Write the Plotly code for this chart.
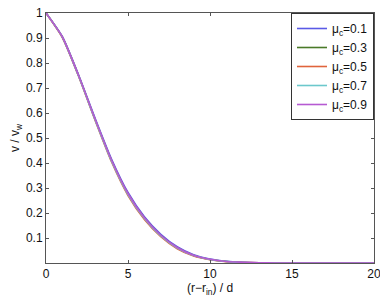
import plotly.graph_objects as go

x = [0, 1, 2, 3, 4, 5, 6, 7, 8, 9, 10, 11, 12, 13, 14, 15, 16, 17, 18, 19, 20]
mu01 = [1.0, 0.905, 0.75, 0.578, 0.415, 0.282, 0.185, 0.115, 0.065, 0.033, 0.016, 0.007, 0.003, 0.001, 0.0, 0.0, 0.0, 0.0, 0.0, 0.0, 0.0]
mu03 = [1.0, 0.903, 0.747, 0.573, 0.409, 0.276, 0.180, 0.110, 0.061, 0.030, 0.014, 0.006, 0.002, 0.001, 0.0, 0.0, 0.0, 0.0, 0.0, 0.0, 0.0]
mu05 = [1.0, 0.902, 0.745, 0.570, 0.404, 0.270, 0.174, 0.105, 0.057, 0.028, 0.013, 0.005, 0.002, 0.001, 0.0, 0.0, 0.0, 0.0, 0.0, 0.0, 0.0]
mu07 = [1.0, 0.903, 0.746, 0.572, 0.407, 0.274, 0.178, 0.108, 0.060, 0.030, 0.014, 0.006, 0.002, 0.001, 0.0, 0.0, 0.0, 0.0, 0.0, 0.0, 0.0]
mu09 = [1.0, 0.904, 0.748, 0.575, 0.411, 0.278, 0.181, 0.111, 0.062, 0.031, 0.015, 0.006, 0.003, 0.001, 0.0, 0.0, 0.0, 0.0, 0.0, 0.0, 0.0]
names = ["μ<sub>c</sub>=0.1", "μ<sub>c</sub>=0.3", "μ<sub>c</sub>=0.5", "μ<sub>c</sub>=0.7", "μ<sub>c</sub>=0.9"]
colors = ["#5a5ae6", "#4a7a28", "#e0643c", "#6cc8cc", "#b65ad2"]
series = [mu01, mu03, mu05, mu07, mu09]

fig = go.Figure()
for ys, n, c in zip(series, names, colors):
    fig.add_trace(go.Scatter(x=x, y=ys, name=n, mode="lines",
                             line=dict(color=c, width=1.6, shape="spline", smoothing=0.6)))

axis_common = dict(showline=True, linecolor="#555555", linewidth=1, mirror="ticks",
                   ticks="inside", ticklen=3, tickcolor="#555555", showgrid=False,
                   zeroline=False, automargin=False, ticklabeloverflow="allow",
                   tickfont=dict(size=12, color="#111111"))
fig.update_xaxes(range=[0, 20], tickvals=[0, 5, 10, 15, 20],
                 title=dict(text="(r−r<sub>in</sub>) / d", font=dict(size=12, color="#111111"), standoff=0),
                 **axis_common)
fig.update_yaxes(range=[0, 1], tickvals=[0.1, 0.2, 0.3, 0.4, 0.5, 0.6, 0.7, 0.8, 0.9, 1],
                 ticktext=["0.1", "0.2", "0.3", "0.4", "0.5", "0.6", "0.7", "0.8", "0.9", "1"],
                 title=dict(text="v / v<sub>w</sub>", font=dict(size=12, color="#111111"), standoff=4),
                 **axis_common)
fig.update_layout(
    width=380, height=291,
    margin=dict(l=38, r=14, t=5, b=36),
    paper_bgcolor="white", plot_bgcolor="white",
    font=dict(family="Liberation Sans, Arial, sans-serif", size=12, color="#111111"),
    legend=dict(x=1, xanchor="right", y=1, yanchor="top", bgcolor="white",
                bordercolor="#333333", borderwidth=1, font=dict(size=12),
                tracegroupgap=0, itemwidth=30),
)
fig.write_html("out.html")
